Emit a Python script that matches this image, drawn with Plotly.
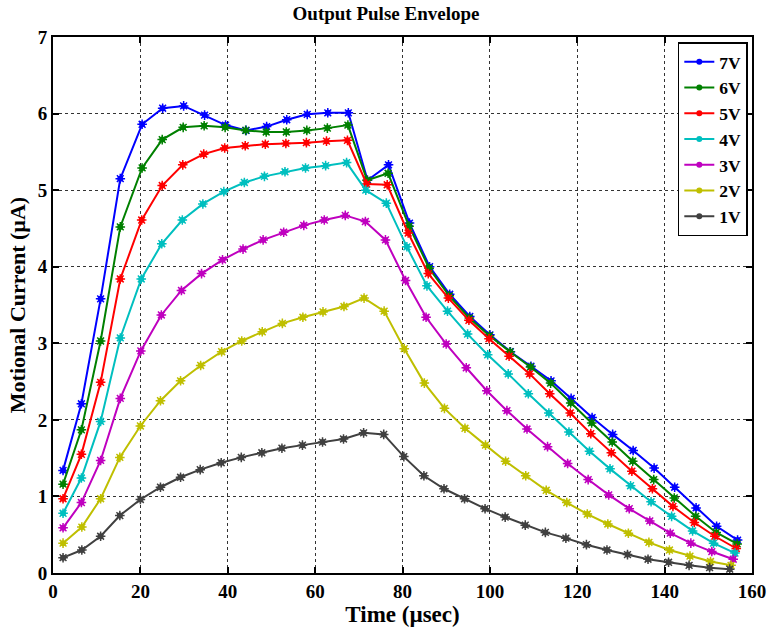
import plotly.graph_objects as go

# ---- data ----
labels = ["7V", "6V", "5V", "4V", "3V", "2V", "1V"]
colors = ["#0000FF", "#008000", "#FF0000", "#00BFBF", "#BF00BF", "#BFBF00", "#404040"]

t_7V = [2.3, 6.5, 10.9, 15.4, 20.4, 25.1, 29.9, 34.7, 39.5, 44.2, 48.9, 53.5, 58.2, 62.9, 67.6, 72.0, 76.8,
        81.6, 86.2, 90.8, 95.4, 100.0, 104.7, 109.4, 114.0, 118.6, 123.4, 128.1, 132.8, 137.6, 142.3, 147.2, 151.9, 156.7]
t_6V = [2.3, 6.5, 10.9, 15.4, 20.4, 25.0, 29.8, 34.6, 39.4, 44.1, 48.8, 53.4, 58.1, 62.8, 67.5, 71.9, 76.7,
        81.5, 86.1, 90.7, 95.3, 99.9, 104.6, 109.3, 113.9, 118.5, 123.3, 128.0, 132.7, 137.5, 142.2, 147.1, 151.8, 156.6]
t_5V = [2.3, 6.5, 10.9, 15.4, 20.3, 25.0, 29.7, 34.5, 39.3, 44.0, 48.6, 53.3, 58.0, 62.6, 67.4, 71.8, 76.5,
        81.3, 85.9, 90.5, 95.2, 99.8, 104.4, 109.1, 113.7, 118.4, 123.1, 127.8, 132.5, 137.2, 141.9, 146.8, 151.5, 156.4]
t_4V = [2.3, 6.5, 10.9, 15.4, 20.2, 24.9, 29.6, 34.3, 39.1, 43.8, 48.4, 53.1, 57.8, 62.4, 67.2, 71.6, 76.3,
        81.0, 85.6, 90.3, 94.9, 99.5, 104.2, 108.8, 113.5, 118.1, 122.8, 127.5, 132.2, 136.9, 141.6, 146.4, 151.2, 156.1]
t_3V = [2.3, 6.5, 10.9, 15.4, 20.1, 24.8, 29.4, 34.0, 38.8, 43.5, 48.1, 52.8, 57.4, 62.1, 66.9, 71.5, 76.1,
        80.7, 85.4, 90.0, 94.6, 99.3, 103.9, 108.5, 113.2, 117.8, 122.5, 127.2, 131.9, 136.6, 141.3, 146.0, 150.8, 155.7]
t_2V = [2.3, 6.6, 10.9, 15.3, 20.0, 24.6, 29.2, 33.8, 38.6, 43.2, 47.9, 52.5, 57.2, 61.8, 66.6, 71.2, 75.8,
        80.4, 85.0, 89.6, 94.3, 99.0, 103.6, 108.2, 112.9, 117.6, 122.3, 127.0, 131.7, 136.4, 141.1, 145.8, 150.5, 155.2]
t_1V = [2.3, 6.6, 10.9, 15.3, 20.0, 24.6, 29.2, 33.7, 38.5, 43.1, 47.8, 52.4, 57.1, 61.7, 66.5, 71.1, 75.7,
        80.3, 84.9, 89.5, 94.2, 98.9, 103.5, 108.1, 112.7, 117.4, 122.1, 126.8, 131.5, 136.2, 140.9, 145.6, 150.3, 154.9]

i_7V = [1.34, 2.21, 3.58, 5.15, 5.86, 6.07, 6.10, 5.98, 5.85, 5.78, 5.83, 5.92, 5.99, 6.01, 6.01, 5.13, 5.33,
        4.57, 4.00, 3.64, 3.35, 3.11, 2.89, 2.70, 2.51, 2.28, 2.03, 1.81, 1.60, 1.37, 1.12, 0.85, 0.61, 0.43]
i_6V = [1.16, 1.87, 3.03, 4.52, 5.29, 5.66, 5.82, 5.84, 5.82, 5.78, 5.76, 5.76, 5.78, 5.81, 5.85, 5.13, 5.22,
        4.53, 3.98, 3.62, 3.33, 3.10, 2.89, 2.69, 2.48, 2.22, 1.96, 1.71, 1.46, 1.22, 0.98, 0.74, 0.53, 0.38]
i_5V = [0.97, 1.55, 2.49, 3.84, 4.61, 5.06, 5.33, 5.47, 5.55, 5.58, 5.60, 5.61, 5.62, 5.64, 5.65, 5.08, 5.07,
        4.44, 3.91, 3.59, 3.30, 3.06, 2.83, 2.60, 2.34, 2.09, 1.82, 1.57, 1.33, 1.10, 0.87, 0.66, 0.48, 0.32]
i_4V = [0.78, 1.24, 1.98, 3.07, 3.84, 4.30, 4.61, 4.82, 4.98, 5.10, 5.18, 5.24, 5.29, 5.32, 5.36, 5.00, 4.83,
        4.26, 3.75, 3.42, 3.12, 2.85, 2.60, 2.34, 2.09, 1.84, 1.59, 1.36, 1.14, 0.93, 0.74, 0.55, 0.39, 0.26]
i_3V = [0.59, 0.92, 1.47, 2.28, 2.90, 3.37, 3.69, 3.91, 4.09, 4.23, 4.35, 4.45, 4.54, 4.61, 4.67, 4.59, 4.35,
        3.82, 3.34, 2.99, 2.68, 2.38, 2.12, 1.88, 1.65, 1.43, 1.22, 1.02, 0.84, 0.68, 0.52, 0.39, 0.28, 0.18]
i_2V = [0.39, 0.60, 0.97, 1.51, 1.92, 2.25, 2.51, 2.71, 2.89, 3.03, 3.15, 3.26, 3.34, 3.41, 3.48, 3.59, 3.42,
        2.93, 2.48, 2.15, 1.89, 1.67, 1.46, 1.27, 1.08, 0.92, 0.77, 0.64, 0.52, 0.40, 0.30, 0.22, 0.15, 0.10]
i_1V = [0.20, 0.30, 0.48, 0.75, 0.96, 1.12, 1.25, 1.35, 1.44, 1.51, 1.57, 1.63, 1.67, 1.71, 1.75, 1.83, 1.81,
        1.52, 1.27, 1.10, 0.97, 0.84, 0.73, 0.625, 0.53, 0.455, 0.37, 0.30, 0.24, 0.18, 0.14, 0.10, 0.07, 0.05]

times = [t_7V, t_6V, t_5V, t_4V, t_3V, t_2V, t_1V]
currents = [i_7V, i_6V, i_5V, i_4V, i_3V, i_2V, i_1V]

x_ticks = [0, 20, 40, 60, 80, 100, 120, 140, 160]
y_ticks = [0, 1, 2, 3, 4, 5, 6, 7]

FONT = "Liberation Serif"

fig = go.Figure()
for lab, col, t, c in zip(labels, colors, times, currents):
    fig.add_trace(go.Scatter(
        x=t, y=c, name=lab, mode="lines+markers",
        line=dict(color=col, width=2),
        marker=dict(symbol="circle", size=6, color=col),
        legendgroup=lab,
    ))
    fig.add_trace(go.Scatter(
        x=t, y=c, name=lab, mode="markers", showlegend=False,
        marker=dict(symbol="asterisk-open", size=8, color=col, line=dict(color=col, width=1.5)),
        legendgroup=lab, hoverinfo="skip",
    ))

axis_common = dict(
    showline=True, linecolor="black", linewidth=2, mirror="ticks",
    ticks="inside", ticklen=6, tickwidth=2, tickcolor="black",
    showgrid=True, gridcolor="#333333", gridwidth=1, griddash="dot",
    zeroline=False, automargin=False, ticklabeloverflow="allow",
    tickfont=dict(family=FONT, size=19, color="black", weight="bold"),
)

fig.update_xaxes(
    range=[0, 160], tickvals=x_ticks, ticktext=[str(v) for v in x_ticks],
    title=dict(text="Time (µsec)", font=dict(family=FONT, size=23, color="black", weight="bold"), standoff=0),
    **axis_common,
)
fig.update_yaxes(
    range=[0, 7], tickvals=y_ticks, ticktext=[str(v) for v in y_ticks],
    title=dict(text="Motional Current (µA)", font=dict(family=FONT, size=22, color="black", weight="bold"), standoff=6),
    **axis_common,
)

fig.update_layout(
    template="none",
    width=772, height=629,
    margin=dict(l=53, r=20, t=37, b=56),
    paper_bgcolor="white", plot_bgcolor="white",
    title=dict(text="Output Pulse Envelope", x=0.5, xanchor="center", y=0.979, yanchor="middle",
               font=dict(family=FONT, size=19, color="black", weight="bold")),
    legend=dict(x=0.994, xanchor="right", y=0.99, yanchor="top",
                bgcolor="white", bordercolor="black", borderwidth=1.5,
                font=dict(family=FONT, size=17.5, color="black", weight="bold"),
                itemwidth=30, tracegroupgap=0),
    showlegend=True,
)

fig.write_html("out.html")
